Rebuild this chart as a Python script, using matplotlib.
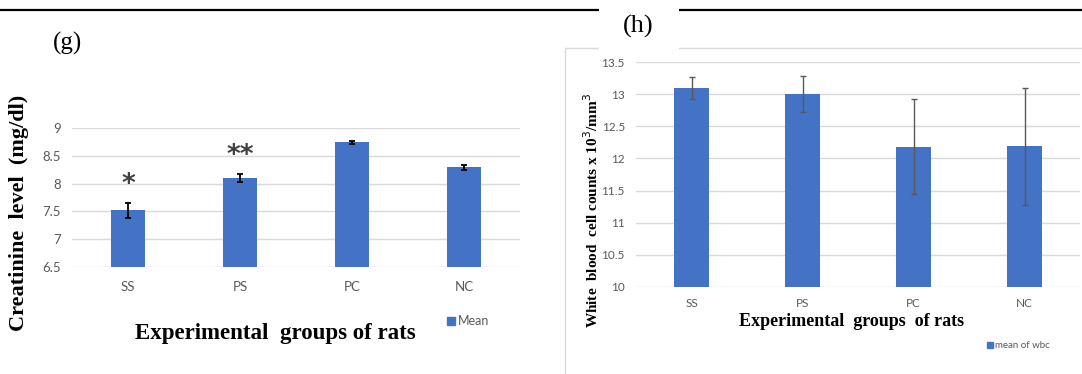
import matplotlib.pyplot as plt
from matplotlib.lines import Line2D
from matplotlib.patches import Rectangle

groups = ["SS", "PS", "PC", "NC"]

creat_mean = [7.52, 8.10, 8.74, 8.29]
creat_err = [0.14, 0.07, 0.02, 0.05]
creat_stars = ["*", "**", "", ""]
creat_ticks = [6.5, 7, 7.5, 8, 8.5, 9]

wbc_mean = [13.10, 13.01, 12.18, 12.19]
wbc_err = [0.17, 0.28, 0.74, 0.91]
wbc_ticks = [10, 10.5, 11, 11.5, 12, 12.5, 13, 13.5]

BLUE = "#4472C4"
GRID = "#d9d9d9"
TICK = "#595959"
SERIF = "Liberation Serif"
SANS = "Lato"

W, H = 1082, 374
fig = plt.figure(figsize=(W / 100, H / 100), dpi=100)


def px_axes(x0, y_top, x1, y_bot):
    return fig.add_axes([x0 / W, 1 - y_bot / H, (x1 - x0) / W, (y_bot - y_top) / H])


def style(ax, ticks, fs):
    ax.set_ylim(ticks[0], ticks[-1])
    ax.set_xlim(-0.5, len(groups) - 0.5)
    ax.set_yticks(ticks)
    ax.set_yticklabels([f"{t:g}" for t in ticks])
    ax.set_xticks(range(len(groups)))
    ax.set_xticklabels(groups)
    for s in ax.spines.values():
        s.set_visible(False)
    ax.grid(axis="y", color=GRID, lw=1)
    ax.set_axisbelow(True)
    ax.patch.set_alpha(0)
    ax.tick_params(length=0, labelsize=fs, labelcolor=TICK)
    for lab in ax.get_xticklabels() + ax.get_yticklabels():
        lab.set_fontfamily(SANS)


# ---- (g) creatinine ----
ax1 = px_axes(72, 128, 520, 267)
style(ax1, creat_ticks, 9.5)
ax1.tick_params(axis="x", pad=10)
ax1.tick_params(axis="y", pad=8)
ax1.bar(range(len(groups)), creat_mean, width=0.31, color=BLUE,
        yerr=creat_err, error_kw=dict(ecolor="black", elinewidth=1.3, capsize=2.5, capthick=1.3))
for i, s in enumerate(creat_stars):
    if s:
        ax1.text(i, creat_mean[i] + creat_err[i] + 0.09, s, ha="center", va="bottom",
                 fontsize=19, fontweight="bold", color="#404040", family="DejaVu Sans")

fig.text(275 / W, 1 - 334 / H, "Experimental  groups of rats", ha="center", va="center",
         fontsize=16.5, fontweight="bold", family=SERIF)
fig.text(19 / W, 1 - 213 / H, "Creatinine  level  (mg/dl)", ha="center", va="center",
         rotation=90, fontsize=16, fontweight="bold", family=SERIF)
fig.text(67 / W, 1 - 43 / H, "(g)", ha="center", va="center", fontsize=18, family=SERIF)

fig.add_artist(Rectangle((447 / W, 1 - 325 / H), 8 / W, 8 / H, color=BLUE, transform=fig.transFigure))
fig.text(458 / W, 1 - 321 / H, "Mean", ha="left", va="center", fontsize=9, color=TICK, family=SANS)

# ---- (h) white blood cells ----
fig.add_artist(Rectangle((565 / W, -0.1), 0.6, 1 - 48 / H + 0.1, transform=fig.transFigure,
                         facecolor="none", edgecolor=GRID, lw=1, zorder=-1))
ax2 = px_axes(636, 62.3, 1080, 286.7)
style(ax2, wbc_ticks, 8.5)
ax2.tick_params(axis="x", pad=8)
ax2.tick_params(axis="y", pad=8)
ax2.bar(range(len(groups)), wbc_mean, width=0.315, color=BLUE,
        yerr=wbc_err, error_kw=dict(ecolor="#595959", elinewidth=1, capsize=2.2, capthick=1))

fig.text(852 / W, 1 - 321 / H, "Experimental  groups  of rats", ha="center", va="center",
         fontsize=13, fontweight="bold", family=SERIF)
fig.text(592 / W, 1 - 210 / H, "White  blood  cell counts x 10$^3$/mm$^3$", ha="center", va="center",
         rotation=90, fontsize=11, fontweight="bold", family=SERIF)

fig.add_artist(Rectangle((987 / W, 1 - 348 / H), 6 / W, 6 / H, color=BLUE, transform=fig.transFigure))
fig.text(995 / W, 1 - 345 / H, "mean of wbc", ha="left", va="center", fontsize=7, color=TICK, family=SANS)

# white patch behind (h) interrupting the top rules
fig.add_artist(Rectangle((599 / W, 1 - 50 / H), 80 / W, 50 / H, transform=fig.transFigure,
                         facecolor="white", edgecolor="none", zorder=5))
fig.text(638 / W, 1 - 26 / H, "(h)", ha="center", va="center", fontsize=19, family=SERIF, zorder=6)

# top black rule
fig.add_artist(Line2D([0, 1], [1 - 10 / H] * 2, color="black", lw=1.6, transform=fig.transFigure, zorder=4))

fig.savefig("out.png", dpi=100)
